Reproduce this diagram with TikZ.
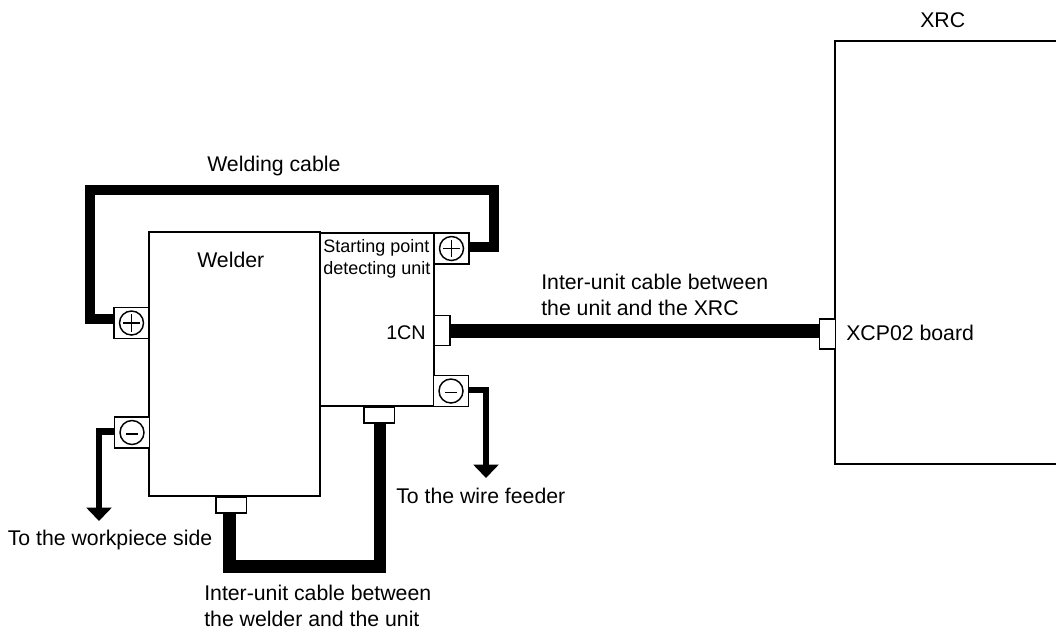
\documentclass[tikz,border=0pt]{standalone}
\usepackage{fontspec}
\setmainfont{Liberation Sans}
\usetikzlibrary{arrows.meta}
\tikzset{
	box/.style={draw, line width=1.2pt, fill=white, inner sep=0pt},
	term/.style={box, line width=1.1pt, minimum width=26pt, minimum height=23pt},
	conn/.style={box, line width=1.1pt},
	lbl/.style={inner sep=0pt, align=left, anchor=base west, font=\fontsize{15.95}{19.3}\selectfont},
	smalllbl/.style={lbl, font=\fontsize{13.5}{16.3}\selectfont},
	cable/.style={line width=#1, line join=miter},
	lead/.style={line width=5.2pt, -{Triangle[width=18.5pt,length=10pt]}}
}
\begin{document}
\begin{tikzpicture}[x=0.75pt, y=-0.75pt]
	\useasboundingbox (0,0) rectangle (1056,632);
	\path
	(89.5,319) coordinate (W0)
	(89.5,189.5) coordinate (W1)
	(494,189.5) coordinate (W2)
	(494,247) coordinate (W3)
	(99,431.5) coordinate (L0)
	(99,521) coordinate (L1)
	(486,390) coordinate (R0)
	(486,478) coordinate (R1)
	(229.5,566.5) coordinate (B0)
	(380,566.5) coordinate (B1);
	% boxes
	\node[box, minimum width=128pt, minimum height=198pt] (welder) at (234.5,364) {};
	\node[box, minimum width=85.5pt, minimum height=130pt] (unit) at (377,319.5) {};
	\draw[line width=1.2pt] (1056,41) -- (835,41) -- (835,464) -- (1056,464);
	% terminals and connectors
	\foreach \n/\x/\y in {plusW/131.5/323, minusW/132/432.5, plusU/451.5/248.5, minusU/451/391}
	\node[term] (\n) at (\x,\y) {};
	\node[conn, minimum width=12pt, minimum height=22.5pt] (cnA) at (442,330.7) {};
	\node[conn, minimum width=12pt, minimum height=22.5pt] (cnB) at (827.5,334) {};
	\node[conn, minimum width=23pt, minimum height=12pt] (cnC) at (379.3,414.8) {};
	\node[conn, minimum width=23pt, minimum height=12pt] (cnD) at (231.3,504.8) {};
	\foreach \n in {plusW,minusW,plusU,minusU}
	\draw[line width=1.1pt] (\n) circle (9pt);
	\foreach \n in {plusW,plusU}
	\draw[line width=1.1pt] ([xshift=-6.5pt]\n.center) -- ([xshift=6.5pt]\n.center) ([yshift=-6.5pt]\n.center) -- ([yshift=6.5pt]\n.center);
	\foreach \n in {minusW,minusU}
	\draw[line width=1.1pt] ([xshift=-4.5pt,yshift=-1pt]\n.center) -- ([xshift=4.5pt,yshift=-1pt]\n.center);
	% cables
	\draw[cable=7.5pt] (plusW.west |- W0) -- (W0) -- (W1) -- (W2) -- (W3) -- (plusU.east |- W3);
	\draw[cable=10.5pt] (cnA.east) -- (cnA.east -| cnB.west);
	\draw[cable=9.5pt] (cnD.south -| B0) -- (B0) -- (B1) -- (cnC.south -| B1);
	\draw[lead] (minusW.west |- L0) -- (L0) -- (L1);
	\draw[lead] (minusU.east |- R0) -- (R0) -- (R1);
	% labels
	\node[lbl] (xrclbl) at (920,27.7) {XRC};
	\node[lbl] (cablelbl) at (207,171.7) {Welding cable};
	\node[lbl] (welderlbl) at (197,267.7) {Welder};
	\node[smalllbl] (unitlbl) at (323,274) {Starting point\\detecting unit};
	\node[lbl, font=\fontsize{14.8}{18}\selectfont] (cnlbl) at (386,339.3) {1CN};
	\node[lbl] (xrccable) at (541,315.7) {Inter-unit cable between\\the unit and the XRC};
	\node[lbl] (boardlbl) at (846,340) {XCP02 board};
	\node[lbl] (feederlbl) at (396,503.3) {To the wire feeder};
	\node[lbl] (worklbl) at (7.5,545) {To the workpiece side};
	\node[lbl] (weldercable) at (204,626) {Inter-unit cable between\\the welder and the unit};
\end{tikzpicture}
\end{document}
